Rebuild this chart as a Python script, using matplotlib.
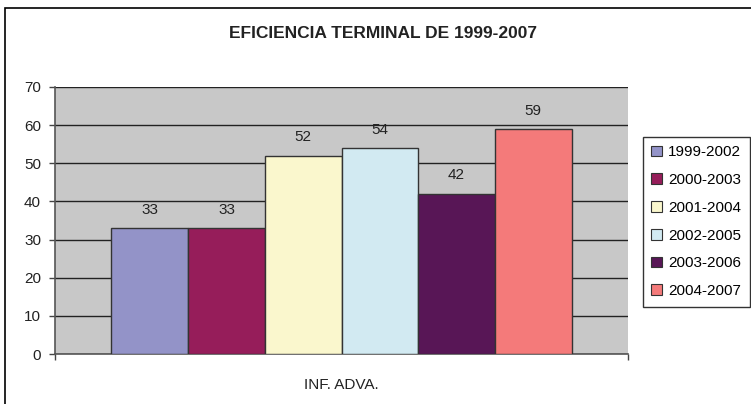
import matplotlib
matplotlib.use("Agg")
import matplotlib.pyplot as plt
from matplotlib.patches import Rectangle
import numpy as np

plt.rcParams['font.family'] = ['Liberation Sans', 'DejaVu Sans']

title = "EFICIENCIA TERMINAL DE 1999-2007"
category = "INF. ADVA."
series = ["1999-2002", "2000-2003", "2001-2004", "2002-2005", "2003-2006", "2004-2007"]
values = [33, 33, 52, 54, 42, 59]
colors = ["#9393C8", "#961D5A", "#FAF7CD", "#D2EAF2", "#581656", "#F47A7A"]
yticks = [0, 10, 20, 30, 40, 50, 60, 70]

fig = plt.figure(figsize=(7.51, 4.04), dpi=100)
fig.patches.append(Rectangle((5/751, -0.05), 1.0, 1.05 - 8/404, transform=fig.transFigure,
                             fill=False, edgecolor='black', linewidth=1.2))

ax = fig.add_axes([55/751, 50/404, 573/751, 267/404])
ax.set_facecolor('#C8C8C8')

n = len(values)
group = 460/573
w = group / n
xs = -group/2 + w/2 + np.arange(n) * w
for x, v, c, s in zip(xs, values, colors, series):
    ax.bar(x, v, width=w, color=c, edgecolor='#333333', linewidth=1.0, label=s, zorder=3)
    ax.text(x, v + 3, str(v), ha='center', va='bottom', fontsize=11, color='#222222', zorder=4)

ax.set_xlim(-0.5, 0.5)
ax.set_ylim(0, 70)
ax.set_yticks(yticks)
ax.yaxis.grid(True, color='#222222', linewidth=1.0, zorder=1)
ax.set_axisbelow(True)
ax.set_xticks([-0.5, 0.5])
ax.set_xticklabels(['', ''])
ax.tick_params(axis='x', length=4, width=1, color='#444444')
ax.tick_params(axis='y', length=4, width=1, color='#444444', labelsize=11, labelcolor='#222222', pad=6)
ax.text(0.5, -0.09, category, transform=ax.transAxes, ha='center', va='top', fontsize=11, color='#222222')

for side in ['top', 'right']:
    ax.spines[side].set_visible(False)
for side in ['left', 'bottom']:
    ax.spines[side].set_color('#555555')
    ax.spines[side].set_linewidth(1.2)

fig.text(383/751, 1 - 33/404, title, ha='center', va='center', fontsize=12.5, fontweight='bold', color='#222222')

leg = fig.legend(loc='upper left', bbox_to_anchor=(643/751, 1 - 137/404), fontsize=11,
                 frameon=True, fancybox=False, edgecolor='black', handlelength=0.7, handleheight=0.7,
                 handletextpad=0.4, labelspacing=0.9, borderpad=0.55, borderaxespad=0)
leg.get_frame().set_linewidth(1.0)
for h in leg.legend_handles:
    h.set_edgecolor('#333333')
    h.set_linewidth(0.8)

fig.savefig('out.png', dpi=100)
